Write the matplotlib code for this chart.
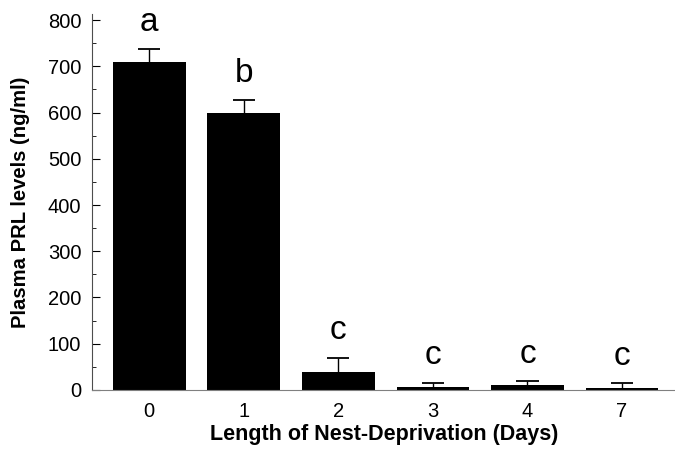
import matplotlib.pyplot as plt
from matplotlib.ticker import MultipleLocator

# data
days = ['0', '1', '2', '3', '4', '7']
prl_mean = [710, 600, 39, 7, 10, 4]
prl_sem = [27, 28, 31, 9, 10, 10]
letters = ['a', 'b', 'c', 'c', 'c', 'c']

plt.rcParams['font.family'] = ['Liberation Sans', 'DejaVu Sans']

fig = plt.figure(figsize=(6.75, 4.55), dpi=100)
ax = fig.add_axes([0.137, 0.143, 0.863, 0.826])

x = list(range(len(days)))
ax.bar(x, prl_mean, width=0.77, color='black', zorder=2)

# upper error bars only (stem + cap)
tops = [m + s for m, s in zip(prl_mean, prl_sem)]
ax.vlines(x, prl_mean, tops, color='black', lw=1, zorder=1)
ax.hlines(tops, [xi - 0.117 for xi in x], [xi + 0.117 for xi in x],
          color='black', lw=1.3, zorder=1)

# significance letters above the error caps
for xi, t, lab in zip(x, tops, letters):
    ax.annotate(lab, (xi, t), xytext=(0, 8), textcoords='offset points',
                ha='center', va='bottom', fontsize=24)

ax.set_xlim(-0.6, 5.56)
ax.set_ylim(0, 813)
ax.set_xticks(x)
ax.set_xticklabels(days)
ax.yaxis.set_major_locator(MultipleLocator(100))
ax.yaxis.set_minor_locator(MultipleLocator(50))
ax.tick_params(axis='y', which='major', direction='in', length=6, width=0.8,
               labelsize=14.5, pad=8)
ax.tick_params(axis='y', which='minor', direction='in', length=3, width=0.6)
ax.tick_params(axis='x', length=0, labelsize=14.5, pad=9)

ax.spines['top'].set_visible(False)
ax.spines['right'].set_visible(False)
ax.spines['left'].set_color('0.3')
ax.spines['left'].set_linewidth(0.8)
ax.spines['bottom'].set_color('0.5')
ax.spines['bottom'].set_linewidth(0.8)

ax.set_ylabel('Plasma PRL levels (ng/ml)', fontsize=14.6, fontweight='bold', labelpad=13)
ax.set_xlabel('Length of Nest-Deprivation (Days)', fontsize=15.5, fontweight='bold', labelpad=2)

fig.savefig('out.png', dpi=100)
